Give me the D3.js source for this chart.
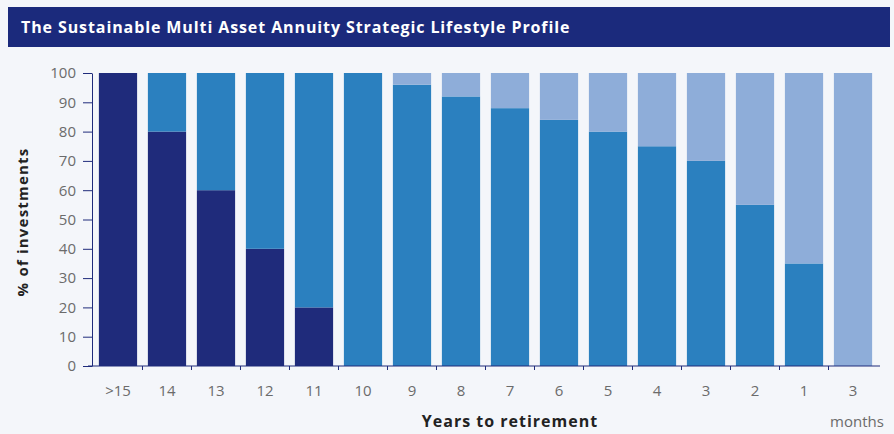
<!DOCTYPE html>
<html>
<head>
<meta charset="utf-8">
<script src="https://cdn.jsdelivr.net/npm/d3@7"></script>
<style>
  body { margin: 0; background: #f4f6fa; }
  svg { display: block; }
</style>
</head>
<body>
<svg width="894" height="434"></svg>
<script>
// categories along the x axis
var categories = [">15", "14", "13", "12", "11", "10", "9", "8", "7", "6", "5", "4", "3", "2", "1", "3"];
// % of investments in each fund
var darkFund   = [100, 80, 60, 40, 20, 0, 0, 0, 0, 0, 0, 0, 0, 0, 0, 0];
var midFund    = [0, 20, 40, 60, 80, 100, 96, 92, 88, 84, 80, 75, 70, 55, 35, 0];
var lightFund  = [0, 0, 0, 0, 0, 0, 4, 8, 12, 16, 20, 25, 30, 45, 65, 100];
var yTicks = [0, 10, 20, 30, 40, 50, 60, 70, 80, 90, 100];

var keys = ["dark", "mid", "light"];
var color = {dark: "#1f2b7b", mid: "#2b80bf", light: "#8eadd9"};

var data = categories.map(function(c, i) {
  return {id: i, cat: c, dark: darkFund[i], mid: midFund[i], light: lightFund[i]};
});

var svg = d3.select("svg");

// title bar
svg.append("rect")
  .attr("x", 8).attr("y", 7)
  .attr("width", 882).attr("height", 40)
  .attr("fill", "#1b2a7c");

svg.append("text")
  .attr("x", 21).attr("y", 33)
  .attr("fill", "#ffffff")
  .style("font", "bold 16px 'Open Sans', sans-serif")
  .style("letter-spacing", "0.9px")
  .text("The Sustainable Multi Asset Annuity Strategic Lifestyle Profile");

var x = d3.scaleBand()
  .domain(data.map(function(d) { return d.id; }))
  .range([93, 878])
  .paddingInner(0.22)
  .paddingOuter(0.12);

var y = d3.scaleLinear()
  .domain([0, 100])
  .range([366, 73]);

var stacked = d3.stack().keys(keys)(data);

// bars
svg.append("g")
  .selectAll("g")
  .data(stacked)
  .enter().append("g")
    .attr("fill", function(d) { return color[d.key]; })
  .selectAll("rect")
  .data(function(d) { return d; })
  .enter().append("rect")
    .attr("x", function(d) { return x(d.data.id); })
    .attr("y", function(d) { return y(d[1]); })
    .attr("height", function(d) { return y(d[0]) - y(d[1]); })
    .attr("width", x.bandwidth());

// y axis
var yAxis = svg.append("g")
  .attr("transform", "translate(92,0)")
  .call(d3.axisLeft(y).tickValues(yTicks).tickSize(9).tickPadding(7).tickSizeOuter(0));
yAxis.select(".domain").attr("stroke", "#1f2b7b");
yAxis.selectAll(".tick line").attr("stroke", "#1f2b7b");
yAxis.selectAll("text")
  .attr("fill", "#6b6b6b")
  .style("font", "15px 'Open Sans', sans-serif");

// x axis
var xAxis = svg.append("g")
  .attr("transform", "translate(0,366)")
  .call(d3.axisBottom(x).tickSize(0).tickPadding(19)
    .tickFormat(function(d) { return categories[d]; }));
xAxis.select(".domain").attr("d", "M88,0H880").attr("stroke", "#1f2b7b");
xAxis.selectAll("text")
  .attr("fill", "#6b6b6b")
  .style("font", "15px 'Open Sans', sans-serif");

// small tick marks between the bars
var half = x.step() * x.paddingInner() / 2;
xAxis.selectAll(".sep")
  .data(data.slice(1))
  .enter().append("line")
    .attr("x1", function(d) { return x(d.id) - half; })
    .attr("x2", function(d) { return x(d.id) - half; })
    .attr("y1", 0).attr("y2", 4)
    .attr("stroke", "#1f2b7b");

// axis titles
svg.append("text")
  .attr("transform", "translate(28,222) rotate(-90)")
  .attr("text-anchor", "middle")
  .attr("fill", "#222")
  .style("font", "bold 15px 'Open Sans', sans-serif")
  .style("letter-spacing", "1.2px")
  .text("% of investments");

svg.append("text")
  .attr("x", 510).attr("y", 427)
  .attr("text-anchor", "middle")
  .attr("fill", "#222")
  .style("font", "bold 16px 'Open Sans', sans-serif")
  .style("letter-spacing", "1px")
  .text("Years to retirement");

svg.append("text")
  .attr("x", x(15) + x.bandwidth() / 2 + 4).attr("y", 427)
  .attr("text-anchor", "middle")
  .attr("fill", "#6b6b6b")
  .style("font", "15px 'Open Sans', sans-serif")
  .text("months");
</script>
</body>
</html>
